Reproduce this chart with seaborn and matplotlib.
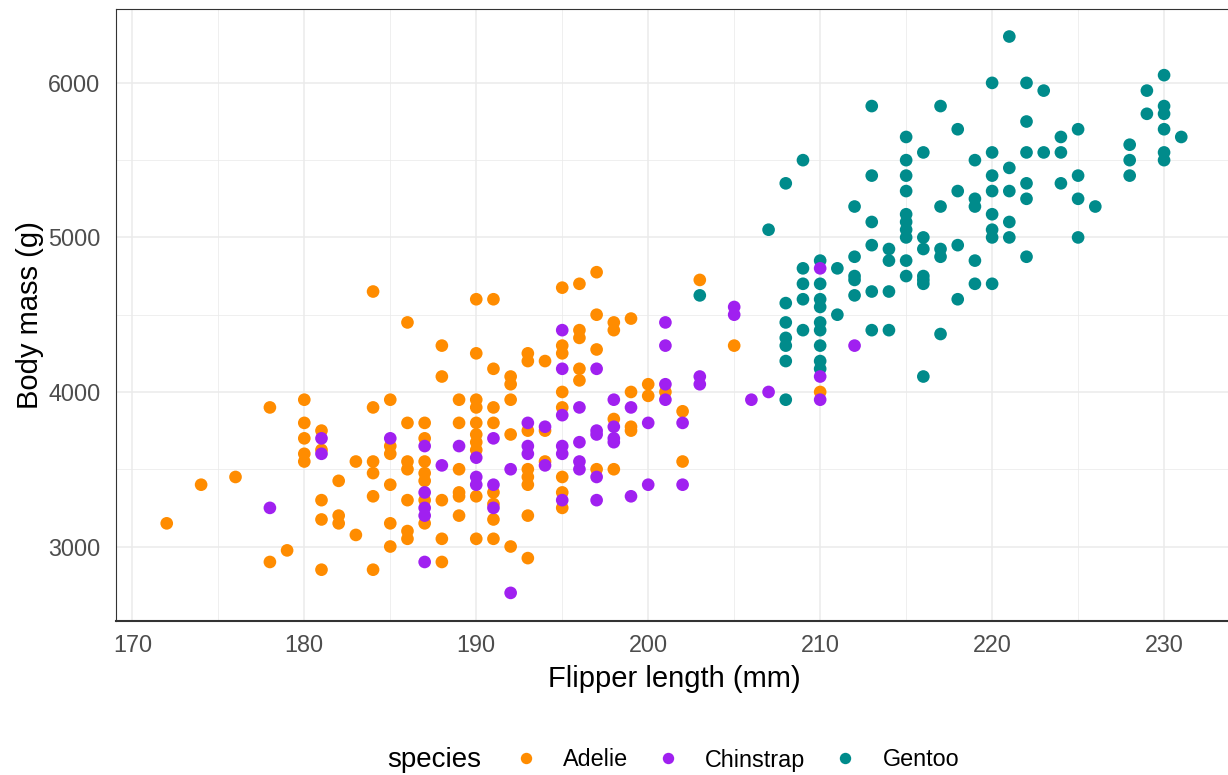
import matplotlib
matplotlib.use("Agg")
import matplotlib.pyplot as plt
import numpy as np
import pandas as pd
import seaborn as sns
from matplotlib.ticker import MultipleLocator

# Flipper length (mm) and body mass (g) per species
adelie_flipper = [172, 174, 176, 178, 178, 179,
                  180, 180, 180, 180, 180,
                  181, 181, 181, 181, 181,
                  182, 182, 182, 183, 183,
                  184, 184, 184, 184, 184, 184,
                  185, 185, 185, 185, 185, 185,
                  186, 186, 186, 186, 186, 186, 186,
                  187, 187, 187, 187, 187, 187, 187,
                  188, 188, 188, 188, 188,
                  189, 189, 189, 189, 189, 189,
                  190, 190, 190, 190, 190, 190, 190, 190, 190, 190,
                  191, 191, 191, 191, 191, 191, 191, 191,
                  192, 192, 192, 192, 192,
                  193, 193, 193, 193, 193, 193, 193, 193,
                  194, 194, 194,
                  195, 195, 195, 195, 195, 195, 195, 195,
                  196, 196, 196, 196, 196,
                  197, 197, 197, 197,
                  198, 198, 198, 198,
                  199, 199, 199, 199,
                  200, 200, 201, 202, 202, 203, 205, 210]
adelie_mass = [3150, 3400, 3450, 3900, 2900, 2975,
               3950, 3800, 3700, 3600, 3550,
               3750, 3625, 3300, 3175, 2850,
               3425, 3200, 3150, 3550, 3075,
               4650, 3900, 3550, 3475, 3325, 2850,
               3950, 3650, 3600, 3400, 3150, 3000,
               4450, 3800, 3550, 3500, 3300, 3100, 3050,
               3800, 3700, 3550, 3475, 3425, 3300, 3150,
               4300, 4100, 3300, 3050, 2900,
               3950, 3800, 3500, 3350, 3325, 3200,
               4600, 4250, 3950, 3900, 3800, 3725, 3675, 3625, 3325, 3050,
               4600, 4150, 3900, 3800, 3350, 3275, 3175, 3050,
               4100, 4050, 3950, 3725, 3000,
               4250, 4200, 3750, 3500, 3450, 3400, 3200, 2925,
               4200, 3750, 3550,
               4675, 4300, 4250, 4000, 3900, 3450, 3350, 3250,
               4700, 4400, 4350, 4150, 4075,
               4775, 4500, 4275, 3500,
               4450, 4400, 3825, 3500,
               4475, 4000, 3775, 3750,
               4050, 3975, 4000, 3875, 3550, 4725, 4300, 4000]

chinstrap_flipper = [178, 181, 181, 185,
                     187, 187, 187, 187, 187,
                     188, 189, 190, 190, 190,
                     191, 191, 191, 192, 192,
                     193, 193, 193, 194, 194,
                     195, 195, 195, 195, 195, 195,
                     196, 196, 196, 196,
                     197, 197, 197, 197, 197,
                     198, 198, 198, 198,
                     199, 199, 200, 200,
                     201, 201, 201, 201,
                     202, 202, 203, 203, 205, 205,
                     206, 207, 210, 210, 210, 212]
chinstrap_mass = [3250, 3700, 3600, 3700,
                  3650, 3350, 3250, 3200, 2900,
                  3525, 3650, 3575, 3450, 3400,
                  3700, 3400, 3250, 3500, 2700,
                  3800, 3650, 3600, 3775, 3525,
                  4400, 4150, 3850, 3650, 3600, 3300,
                  3900, 3675, 3550, 3500,
                  4150, 3750, 3725, 3450, 3300,
                  3950, 3775, 3700, 3675,
                  3900, 3325, 3800, 3400,
                  4450, 4300, 4050, 3950,
                  3800, 3400, 4100, 4050, 4550, 4500,
                  3950, 4000, 4800, 4100, 3950, 4300]

gentoo_flipper = [203, 207,
                  208, 208, 208, 208, 208, 208, 208,
                  209, 209, 209, 209, 209,
                  210, 210, 210, 210, 210, 210, 210, 210, 210,
                  211, 211,
                  212, 212, 212, 212, 212,
                  213, 213, 213, 213, 213, 213,
                  214, 214, 214, 214,
                  215, 215, 215, 215, 215, 215, 215, 215, 215, 215,
                  216, 216, 216, 216, 216, 216, 216,
                  217, 217, 217, 217, 217,
                  218, 218, 218, 218,
                  219, 219, 219, 219, 219,
                  220, 220, 220, 220, 220, 220, 220, 220,
                  221, 221, 221, 221, 221,
                  222, 222, 222, 222, 222, 222,
                  223, 223, 224, 224, 224,
                  225, 225, 225, 225, 226,
                  228, 228, 228, 229, 229,
                  230, 230, 230, 230, 230, 230, 231]
gentoo_mass = [4625, 5050,
               5350, 4575, 4450, 4350, 4300, 4200, 3950,
               5500, 4800, 4700, 4600, 4400,
               4850, 4700, 4600, 4550, 4450, 4400, 4300, 4200, 4150,
               4800, 4500,
               5200, 4875, 4750, 4725, 4625,
               5850, 5400, 5100, 4950, 4650, 4400,
               4925, 4850, 4650, 4400,
               5650, 5500, 5400, 5300, 5150, 5100, 5050, 5000, 4850, 4750,
               5550, 5000, 4925, 4750, 4725, 4700, 4100,
               5850, 5200, 4925, 4875, 4375,
               5700, 5300, 4950, 4600,
               5500, 5250, 5200, 4850, 4700,
               6000, 5550, 5400, 5300, 5150, 5050, 5000, 4700,
               6300, 5450, 5300, 5100, 5000,
               6000, 5750, 5550, 5350, 5250, 4875,
               5950, 5550, 5650, 5550, 5350,
               5700, 5400, 5250, 5000, 5200,
               5600, 5500, 5400, 5950, 5800,
               6050, 5850, 5800, 5700, 5550, 5500, 5650]

species_order = ["Adelie", "Chinstrap", "Gentoo"]
species_colors = {"Adelie": "#FF8C00", "Chinstrap": "#A020F0", "Gentoo": "#008B8B"}

# rows in the order they are drawn: Adelie, then Gentoo, then Chinstrap on top
df = pd.concat([
    pd.DataFrame({"flipper_length_mm": adelie_flipper, "body_mass_g": adelie_mass, "species": "Adelie"}),
    pd.DataFrame({"flipper_length_mm": gentoo_flipper, "body_mass_g": gentoo_mass, "species": "Gentoo"}),
    pd.DataFrame({"flipper_length_mm": chinstrap_flipper, "body_mass_g": chinstrap_mass, "species": "Chinstrap"}),
], ignore_index=True)

sns.set_theme(style="white")
plt.rcParams["font.family"] = ["Liberation Sans", "DejaVu Sans"]

W, H = 1228, 775
fig = plt.figure(figsize=(W / 100, H / 100), dpi=100)
ax = fig.add_axes([116 / W, (H - 620.7) / H, (1232 - 116) / W, (620.7 - 8.7) / H])

sns.scatterplot(data=df, x="flipper_length_mm", y="body_mass_g", hue="species",
                hue_order=species_order, palette=species_colors, s=83,
                linewidth=0, ax=ax, zorder=3)

ax.set_xlim(169.05, 233.95)
ax.set_ylim(2520, 6480)
ax.xaxis.set_major_locator(MultipleLocator(10))
ax.xaxis.set_minor_locator(MultipleLocator(5))
ax.yaxis.set_major_locator(MultipleLocator(1000))
ax.yaxis.set_minor_locator(MultipleLocator(500))
ax.grid(which="major", color="#EBEBEB", linewidth=1.1)
ax.grid(which="minor", color="#EBEBEB", linewidth=0.55)
ax.set_axisbelow(True)

for side in ["top", "left"]:
    ax.spines[side].set_color("#333333")
    ax.spines[side].set_linewidth(0.8)
ax.spines["bottom"].set_color("#333333")
ax.spines["bottom"].set_linewidth(1.5)
ax.spines["right"].set_visible(False)

ax.tick_params(which="major", length=5.8, width=1.0, color="#333333",
               labelsize=16.8, labelcolor="#4D4D4D", pad=3.5)
ax.tick_params(which="minor", length=0)
ax.tick_params(axis="y", pad=5.5)

ax.set_xlabel("Flipper length (mm)", fontsize=21, color="black", labelpad=6)
ax.set_ylabel("Body mass (g)", fontsize=21, color="black", labelpad=3)

handles, labels = ax.get_legend_handles_labels()
ax.get_legend().remove()
legend_y = (H - 760) / H
fig.legend(handles, labels, loc="center left", bbox_to_anchor=(514 / W, legend_y),
           ncol=3, frameon=False, fontsize=16.8, handlelength=1.0,
           handletextpad=1.1, columnspacing=1.2, borderpad=0, borderaxespad=0,
           markerscale=0.9, labelcolor="black")
fig.text(387 / W, legend_y, "species", fontsize=20, color="black",
         ha="left", va="center")

fig.savefig("out.png", dpi=100)
